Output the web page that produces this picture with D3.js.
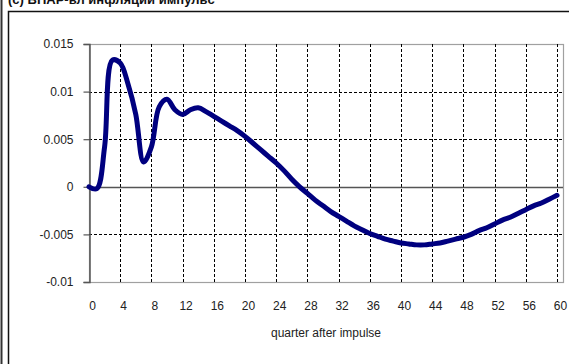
<!DOCTYPE html>
<html>
<head>
<meta charset="utf-8">
<script src="https://cdn.jsdelivr.net/npm/d3@7/dist/d3.min.js"></script>
<style>
body{margin:0;background:#fff;}
svg{display:block;font-family:"Liberation Sans",Arial,sans-serif;}
</style>
</head>
<body>
<svg id="c" width="569" height="364"></svg>
<script>
const titleText = "(c) ВНАР-вл инфляции импульс";
const axisTitle = "quarter after impulse";
const quarters = d3.range(0, 61);
const response = [
 0.0000, -0.0002, 0.0042, 0.0133, 0.0130, 0.0108, 0.0076, 0.0026, 0.0042, 0.0084,
 0.0092, 0.0081, 0.0076, 0.0081, 0.0083, 0.0079, 0.0074, 0.0069, 0.0064, 0.0059,
 0.0053, 0.0046, 0.0039, 0.0032, 0.0025, 0.0017, 0.0008, 0.0000, -0.0007, -0.0014,
 -0.0020, -0.0026, -0.0031, -0.0036, -0.0041, -0.0045, -0.0049, -0.0052, -0.0055, -0.0057,
 -0.0059, -0.0060, -0.0061, -0.0061, -0.0060, -0.0059, -0.0057, -0.0055, -0.0053, -0.0050,
 -0.0046, -0.0043, -0.0039, -0.0035, -0.0032, -0.0028, -0.0024, -0.0020, -0.0017, -0.0013,
 -0.0009
];
const xTicks = d3.range(0, 61, 4);
const yTicks = [0.015, 0.01, 0.005, 0, -0.005, -0.01];
const yTickLabels = ["0.015", "0.01", "0.005", "0", "-0.005", "-0.01"];

const svg = d3.select("#c");
const L = 89, R = 563, T = 44, B = 282;
const x = d3.scaleLinear().domain([0, 60]).range([L, 557]);
const y = d3.scaleLinear().domain([-0.01, 0.015]).range([B, T]);

// title (cut off at top, as in the reference)
svg.append("text").attr("x", 8).attr("y", 4).attr("font-weight", "bold")
  .attr("font-size", 13).attr("fill", "#111").text(titleText);

// outer frame
svg.append("line").attr("x1", 1.5).attr("x2", 1.5).attr("y1", 0).attr("y2", 364)
  .attr("stroke", "#333").attr("stroke-width", 2);
svg.append("path").attr("d", `M8.5,364 V11.5 H569`).attr("fill", "none")
  .attr("stroke", "#111").attr("stroke-width", 1.5);

// plot area border
svg.append("rect").attr("x", L + 0.5).attr("y", T + 0.5).attr("width", R - L).attr("height", B - T)
  .attr("fill", "none").attr("stroke", "#a0a0a0").attr("stroke-width", 1.2);

// vertical gridlines
svg.append("g").selectAll("line").data(xTicks.filter(d => d > 0)).join("line")
  .attr("x1", d => Math.round(x(d)) + 0.5).attr("x2", d => Math.round(x(d)) + 0.5)
  .attr("y1", T).attr("y2", B)
  .attr("stroke", "#000").attr("stroke-dasharray", "3,2").attr("stroke-width", 1);

// horizontal gridlines
svg.append("g").selectAll("line").data(yTicks.filter(d => d !== 0 && d !== 0.015 && d !== -0.01)).join("line")
  .attr("x1", L).attr("x2", R)
  .attr("y1", d => Math.round(y(d)) + 0.5).attr("y2", d => Math.round(y(d)) + 0.5)
  .attr("stroke", "#000").attr("stroke-dasharray", "3,2").attr("stroke-width", 1);

// zero line
svg.append("line").attr("x1", L).attr("x2", R)
  .attr("y1", Math.round(y(0)) + 0.5).attr("y2", Math.round(y(0)) + 0.5)
  .attr("stroke", "#555").attr("stroke-width", 1.5);

// y axis
const yAxis = d3.axisLeft(y).tickValues(yTicks).tickSize(6).tickPadding(10)
  .tickFormat((d, i) => yTickLabels[i]);
const gy = svg.append("g").attr("transform", `translate(${L + 0.5},0)`).call(yAxis);
gy.select(".domain").attr("stroke", "#555").attr("stroke-width", 1.5);
gy.selectAll(".tick line").attr("stroke", "#555").attr("stroke-width", 1.2);
gy.selectAll(".tick text").attr("font-size", 12).attr("fill", "#222")
  .attr("font-family", "Liberation Sans, Arial, sans-serif");

// x axis labels
const xAxis = d3.axisBottom(x).tickValues(xTicks).tickSize(0).tickPadding(19);
const gx = svg.append("g").attr("transform", `translate(3,${B})`).call(xAxis);
gx.select(".domain").remove();
gx.selectAll(".tick text").attr("font-size", 12).attr("fill", "#222")
  .attr("font-family", "Liberation Sans, Arial, sans-serif");

// axis title
svg.append("text").attr("x", 326).attr("y", 337).attr("text-anchor", "middle")
  .attr("font-size", 12).attr("fill", "#222").text(axisTitle);

// line
const line = d3.line().x((d, i) => x(quarters[i])).y(d => y(d)).curve(d3.curveCatmullRom.alpha(0.5));
svg.append("path").datum(response).attr("d", line)
  .attr("fill", "none").attr("stroke", "#00007f").attr("stroke-width", 5)
  .attr("stroke-linejoin", "round").attr("stroke-linecap", "round");
</script>
</body>
</html>
